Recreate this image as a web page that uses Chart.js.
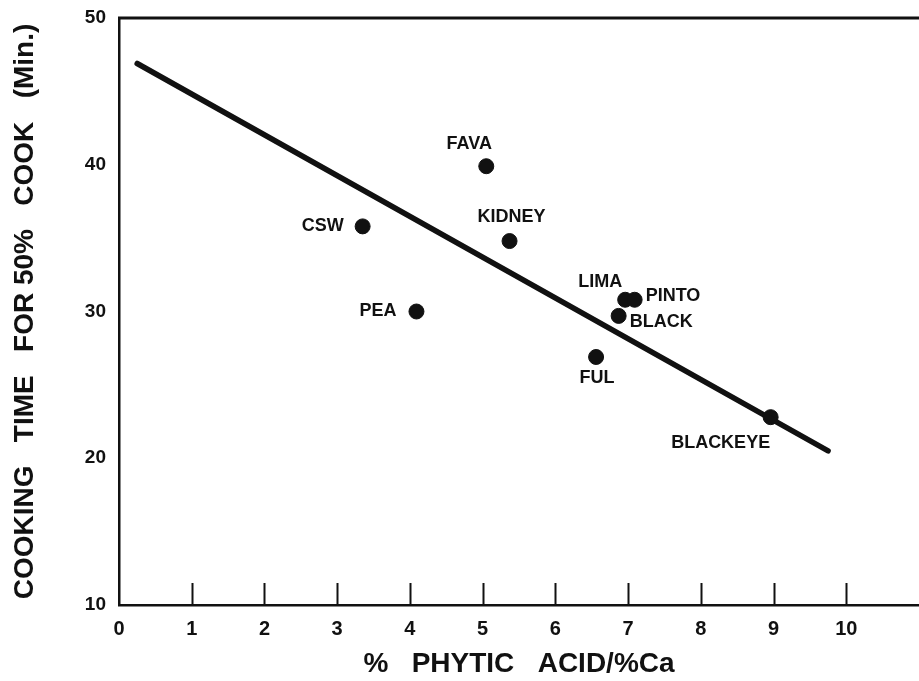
<!DOCTYPE html>
<html>
<head>
<meta charset="utf-8">
<title>Cooking time vs phytic acid / calcium</title>
<script src="https://cdn.jsdelivr.net/npm/chart.js@4/dist/chart.umd.min.js"></script>
<style>
	html, body { margin: 0; padding: 0; background: #fff; }
	#wrap { width: 919px; height: 681px; position: relative; }
</style>
</head>
<body>
<div id="wrap"><canvas id="cook-chart"></canvas></div>
<script>
// bean varieties and their measured values
var beanNames = ['FAVA', 'CSW', 'KIDNEY', 'PEA', 'LIMA', 'PINTO', 'BLACK', 'FUL', 'BLACKEYE'];
var phyticRatio = [5.05, 3.35, 5.37, 4.09, 6.96, 7.09, 6.87, 6.56, 8.96];
var cookMinutes = [39.9, 35.8, 34.8, 30.0, 30.8, 30.8, 29.7, 26.9, 22.8];

// fitted trend line end points
var fitX = [0.25, 9.75];
var fitY = [46.9, 20.5];

var xTickValues = [0, 1, 2, 3, 4, 5, 6, 7, 8, 9, 10];
var yTickValues = [10, 20, 30, 40, 50];

// where each name sits next to its dot (pixels from the dot, text alignment)
var labelPlacement = {
	FAVA: [-17, -22, 'center'],
	CSW: [-19, 0, 'right'],
	KIDNEY: [2, -24, 'center'],
	PEA: [-20, 0, 'right'],
	LIMA: [-25, -18, 'center'],
	PINTO: [11, -4, 'left'],
	BLACK: [11, 6, 'left'],
	FUL: [1, 21, 'center'],
	BLACKEYE: [-50, 26, 'center']
};

var fontFamily = '"Liberation Sans", Arial, sans-serif';

var points = beanNames.map(function(name, i) {
	return {x: phyticRatio[i], y: cookMinutes[i], name: name};
});
var fitLine = fitX.map(function(x, i) {
	return {x: x, y: fitY[i]};
});

// names beside the dots, inward x ticks and the top frame line
var decorations = {
	id: 'decorations',
	afterDatasetsDraw: function(chart) {
		var ctx = chart.ctx,
			xScale = chart.scales.x,
			yScale = chart.scales.y,
			area = chart.chartArea;

		ctx.save();
		ctx.strokeStyle = '#111';
		ctx.lineWidth = 2;
		xTickValues.forEach(function(v) {
			if (v === 0) return;
			var px = Math.round(xScale.getPixelForValue(v)) + 0.5;
			ctx.beginPath();
			ctx.moveTo(px, area.bottom);
			ctx.lineTo(px, area.bottom - 22);
			ctx.stroke();
		});

		ctx.lineWidth = 3;
		ctx.beginPath();
		ctx.moveTo(area.left - 1, area.top);
		ctx.lineTo(chart.width, area.top);
		ctx.stroke();

		ctx.fillStyle = '#111';
		ctx.font = 'bold 18px ' + fontFamily;
		ctx.textBaseline = 'middle';
		points.forEach(function(p) {
			var place = labelPlacement[p.name];
			ctx.textAlign = place[2];
			ctx.fillText(p.name,
				xScale.getPixelForValue(p.x) + place[0],
				yScale.getPixelForValue(p.y) + place[1]);
		});
		ctx.restore();
	}
};

new Chart(document.getElementById('cook-chart'), {
	type: 'scatter',
	data: {
		datasets: [{
			type: 'line',
			data: fitLine,
			borderColor: '#111',
			borderWidth: 5.5,
			borderCapStyle: 'round',
			pointRadius: 0,
			fill: false
		}, {
			data: points,
			backgroundColor: '#111',
			borderColor: '#111',
			pointRadius: 7.5,
			pointHoverRadius: 7.5
		}]
	},
	options: {
		responsive: true,
		maintainAspectRatio: false,
		animation: false,
		layout: {
			autoPadding: false,
			padding: {top: 18, right: 0, left: 0, bottom: 0}
		},
		plugins: {
			legend: {display: false},
			tooltip: {enabled: false}
		},
		scales: {
			x: {
				type: 'linear',
				min: 0,
				max: 11,
				afterBuildTicks: function(scale) {
					scale.ticks = xTickValues.map(function(v) { return {value: v}; });
				},
				afterFit: function(scale) {
					scale.height = 76;
					scale.paddingLeft = 0;
					scale.paddingRight = 0;
				},
				grid: {display: false, drawTicks: false},
				border: {display: true, color: '#111', width: 2.5},
				ticks: {
					color: '#111',
					padding: 12,
					maxRotation: 0,
					font: {family: fontFamily, size: 20, weight: 'bold'}
				},
				title: {
					display: true,
					text: '%   PHYTIC   ACID/%Ca',
					color: '#111',
					padding: {top: 0, bottom: 0},
					font: {family: fontFamily, size: 28, weight: 'bold'}
				}
			},
			y: {
				type: 'linear',
				min: 10,
				max: 50,
				afterBuildTicks: function(scale) {
					scale.ticks = yTickValues.map(function(v) { return {value: v}; });
				},
				afterFit: function(scale) {
					scale.width = 119;
					scale.paddingTop = 0;
					scale.paddingBottom = 0;
				},
				grid: {display: false, drawTicks: false},
				border: {display: true, color: '#111', width: 2.5},
				ticks: {
					color: '#111',
					padding: 13,
					font: {family: fontFamily, size: 19, weight: 'bold'}
				},
				title: {
					display: true,
					text: 'COOKING   TIME   FOR 50%   COOK   (Min.)',
					color: '#111',
					padding: {top: 8, bottom: 0},
					font: {family: fontFamily, size: 28, weight: 'bold'}
				}
			}
		}
	},
	plugins: [decorations]
});
</script>
</body>
</html>
